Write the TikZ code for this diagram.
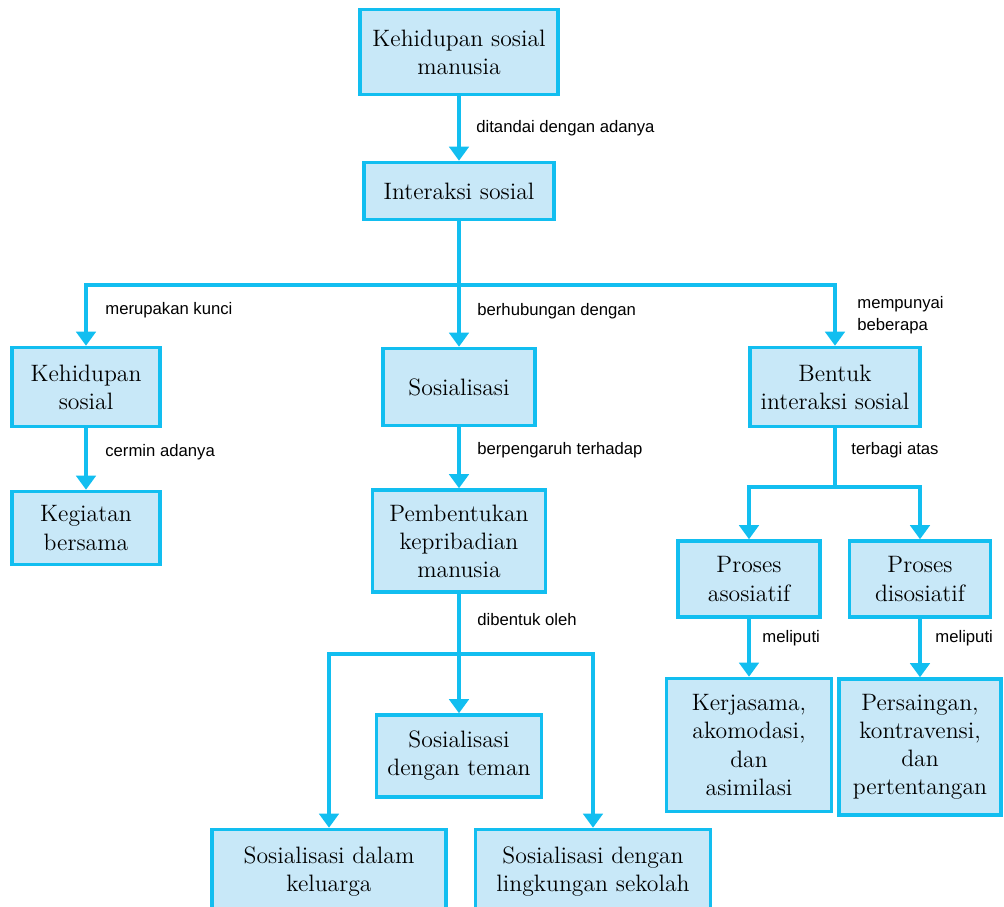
\documentclass[tikz,border=0pt]{standalone}
\usepackage{fontspec}
\usepackage{tikz}
\usetikzlibrary{arrows.meta}
\newfontfamily\ketfont{Liberation Sans}
\definecolor{garis}{RGB}{18,190,240}
\definecolor{isi}{RGB}{200,232,248}
\tikzset{
  kotak/.style={draw=garis, fill=isi, line width=2pt, align=center, inner sep=0pt,
    font=\fontsize{13.5}{16}\selectfont},
  panah/.style={garis, line width=2.2pt, -{Triangle[width=11pt,length=8pt]}},
  sambung/.style={garis, line width=2.2pt},
  ket/.style={anchor=west, inner sep=0pt, align=left, font=\ketfont\fontsize{9.5}{12.5}\selectfont}
}
\begin{document}
\begin{tikzpicture}[x=0.02cm, y=-0.02cm]
\useasboundingbox (0,0) rectangle (1004,906);
\clip (0,0) rectangle (1004,906);
\node [kotak, minimum width=3.96cm, minimum height=1.7cm] (atas) at (459,52) {Kehidupan sosial\\manusia};
\node [kotak, minimum width=3.8cm, minimum height=1.14cm] (inter) at (459,191) {Interaksi sosial};
\node [kotak, minimum width=2.96cm, minimum height=1.58cm] (kehsos) at (86,387) {Kehidupan\\sosial};
\node [kotak, minimum width=3.04cm, minimum height=1.54cm] (sos) at (459,387) {Sosialisasi};
\node [kotak, minimum width=3.4cm, minimum height=1.58cm] (bentuk) at (835,387) {Bentuk\\interaksi sosial};
\node [kotak, minimum width=2.96cm, minimum height=1.46cm] (giat) at (86,528) {Kegiatan\\bersama};
\node [kotak, minimum width=3.46cm, minimum height=2.04cm] (pribadi) at (459,541) {Pembentukan\\kepribadian\\manusia};
\node [kotak, minimum width=2.84cm, minimum height=1.52cm] (asos) at (749,579) {Proses\\asosiatif};
\node [kotak, minimum width=2.82cm, minimum height=1.52cm] (disos) at (920,579) {Proses\\disosiatif};
\node [kotak, minimum width=3.3cm, minimum height=2.66cm] (kerja) at (749,745) {Kerjasama,\\akomodasi,\\dan\\asimilasi};
\node [kotak, minimum width=3.24cm, minimum height=2.72cm] (saing) at (920,747) {Persaingan,\\kontravensi,\\dan\\pertentangan};
\node [kotak, minimum width=3.3cm, minimum height=1.64cm] (teman) at (459,756) {Sosialisasi\\dengan teman};
\node [kotak, minimum width=4.68cm, minimum height=1.7cm] (keluarga) at (329,872) {Sosialisasi dalam\\keluarga};
\node [kotak, minimum width=4.7cm, minimum height=1.7cm] (sekolah) at (593,872) {Sosialisasi dengan\\lingkungan sekolah};
\coordinate (c1) at (459,285);
\coordinate (c2) at (835,487);
\coordinate (c3) at (459,654);
\draw [panah] (atas) -- (inter);
\draw [sambung] (inter) -- (c1);
\draw [panah] (c1) -| (kehsos.north);
\draw [panah] (c1) -- (sos);
\draw [panah] (c1) -| (bentuk.north);
\draw [panah] (kehsos) -- (giat);
\draw [panah] (sos) -- (pribadi);
\draw [sambung] (bentuk) -- (c2);
\draw [panah] (c2) -| (asos.north);
\draw [panah] (c2) -| (disos.north);
\draw [panah] (asos) -- (kerja);
\draw [panah] (disos) -- (saing);
\draw [sambung] (pribadi) -- (c3);
\draw [panah] (c3) -- (teman);
\draw [panah] (c3) -| (keluarga.north);
\draw [panah] (c3) -| (sekolah.north);
\node [ket] (k1) at (476,128) {ditandai dengan adanya};
\node [ket] (k2) at (105,310) {merupakan kunci};
\node [ket] (k3) at (477,311) {berhubungan dengan};
\node [ket] (k4) at (857,315) {mempunyai\\beberapa};
\node [ket] (k5) at (105,452) {cermin adanya};
\node [ket] (k6) at (477,450) {berpengaruh terhadap};
\node [ket] (k7) at (851,450) {terbagi atas};
\node [ket] (k8) at (477,620) {dibentuk oleh};
\node [ket] (k9) at (762,638) {meliputi};
\node [ket] (k10) at (935,638) {meliputi};
\end{tikzpicture}
\end{document}
